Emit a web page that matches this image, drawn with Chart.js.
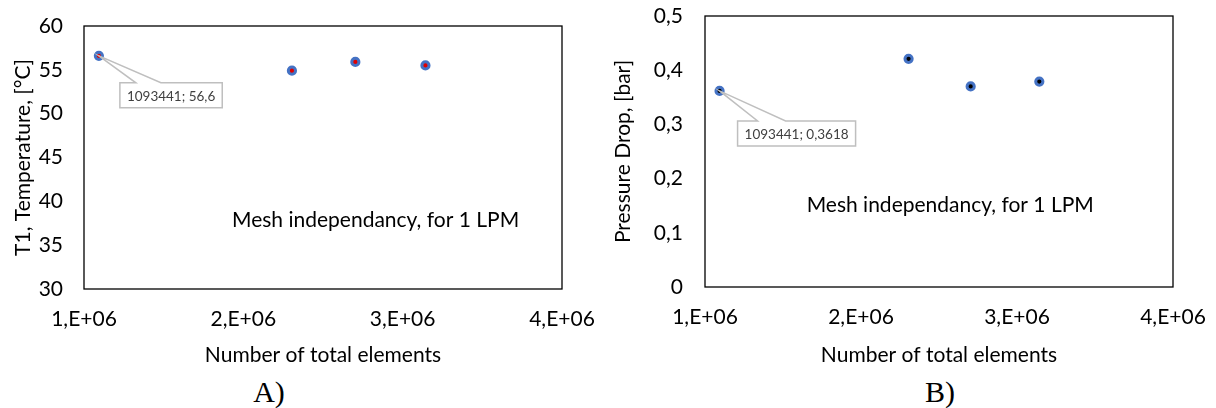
<!DOCTYPE html>
<html lang="en">
<head>
  <meta charset="UTF-8" />
  <title>Mesh independancy</title>
  <script src="https://cdn.jsdelivr.net/npm/chart.js"></script>
  <style>
    body {
      margin: 0;
      background: #fff;
      width: 1216px;
      height: 408px;
      position: relative;
      overflow: hidden;
    }
    .panel {
      position: absolute;
      top: 0;
      height: 372px;
    }
    #leftPanel { left: 0; width: 600px; }
    #rightPanel { left: 600px; width: 616px; }
    .tag {
      position: absolute;
      top: 376px;
      width: 60px;
      line-height: 32px;
      text-align: center;
      font-family: "Liberation Serif", serif;
      font-size: 30px;
      color: #000;
    }
  </style>
</head>
<body>
  <div class="panel" id="leftPanel"><canvas id="tempChart"></canvas></div>
  <div class="panel" id="rightPanel"><canvas id="dropChart"></canvas></div>
  <div class="tag" style="left:239px">A)</div>
  <div class="tag" style="left:910px">B)</div>

<script>
  // mesh sizes (x) shared by both panels
  const elements = [1093441, 2305000, 2703000, 3143000];
  // panel A: T1 temperature [°C]
  const temperature = [56.6, 54.9, 55.9, 55.5];
  // panel B: pressure drop [bar]
  const pressureDrop = [0.3618, 0.421, 0.370, 0.379];
  const xTicks = [1000000, 2000000, 3000000, 4000000];

  const FONT = 'Lato, "Noto Sans", sans-serif';

  function sciLabel(v) {
    return (v / 1e6).toFixed(0) + ',E+06';
  }
  function commaNum(v) {
    return String(+v.toFixed(2)).replace('.', ',');
  }

  // box around plot area, note text and the callout on the first point
  const decor = {
    id: 'decor',
    afterDatasetsDraw(chart, args, opts) {
      const { ctx, chartArea: a } = chart;
      ctx.save();
      ctx.strokeStyle = '#000';
      ctx.lineWidth = 1.3;
      ctx.strokeRect(a.left, a.top, a.right - a.left, a.bottom - a.top);

      ctx.fillStyle = '#000';
      ctx.font = '21px ' + FONT;
      ctx.textAlign = 'center';
      ctx.textBaseline = 'middle';
      ctx.fillText(opts.note,
        a.left + (a.right - a.left) * opts.noteX,
        a.top + (a.bottom - a.top) * opts.noteY);

      // callout
      const p = chart.getDatasetMeta(0).data[0];
      ctx.font = '13.5px ' + FONT;
      const tw = ctx.measureText(opts.callout).width;
      const bw = tw + 14, bh = 25;
      const bx = p.x + opts.dx, by = p.y + opts.dy;
      ctx.beginPath();
      ctx.moveTo(bx, by);
      ctx.lineTo(bx + opts.w1, by);
      ctx.lineTo(p.x, p.y);
      ctx.lineTo(bx + opts.w2, by);
      ctx.lineTo(bx + bw, by);
      ctx.lineTo(bx + bw, by + bh);
      ctx.lineTo(bx, by + bh);
      ctx.closePath();
      ctx.fillStyle = '#fff';
      ctx.fill();
      ctx.strokeStyle = '#BFBFBF';
      ctx.lineWidth = 1.5;
      ctx.stroke();
      ctx.fillStyle = '#404040';
      ctx.textAlign = 'left';
      ctx.fillText(opts.callout, bx + 7, by + bh / 2 + 1);
      ctx.restore();
    }
  };

  function makeChart(id, cfg) {
    const points = elements.map((x, i) => ({ x: x, y: cfg.values[i] }));
    const pad = cfg.padding;
    return new Chart(document.getElementById(id), {
      type: 'scatter',
      data: {
        datasets: [{
          data: points,
          pointRadius: 3.6,
          pointHoverRadius: 3.6,
          pointBorderWidth: 3,
          pointBorderColor: '#4472C4',
          pointBackgroundColor: cfg.inner
        }]
      },
      options: {
        responsive: true,
        maintainAspectRatio: false,
        animation: false,
        events: [],
        layout: { padding: pad },
        plugins: {
          legend: { display: false },
          tooltip: { enabled: false },
          decor: cfg.decor
        },
        scales: {
          x: {
            type: 'linear',
            min: 1000000,
            max: 4000000,
            afterBuildTicks: s => { s.ticks = xTicks.map(v => ({ value: v })); },
            // fixed axis box; label overhang handled by layout padding
            afterFit: s => {
              s.height = 372 - pad.bottom - cfg.plotBottom;
              s.paddingLeft = 0;
              s.paddingRight = 0;
            },
            grid: { display: false, drawTicks: false },
            border: { display: false },
            ticks: {
              color: '#000',
              font: { family: FONT, size: 21 },
              padding: 18,
              maxRotation: 0,
              callback: v => sciLabel(v)
            },
            title: {
              display: true,
              text: 'Number of total elements',
              color: '#000',
              font: { family: FONT, size: 21 },
              padding: { top: 0, bottom: 0 }
            }
          },
          y: {
            min: cfg.yMin,
            max: cfg.yMax,
            afterFit: s => {
              s.width = cfg.plotLeft - pad.left;
              s.paddingTop = 0;
              s.paddingBottom = 0;
            },
            ticks: {
              stepSize: cfg.step,
              color: '#000',
              font: { family: FONT, size: 21 },
              padding: cfg.tickPad,
              callback: v => commaNum(v)
            },
            grid: { display: false, drawTicks: false },
            border: { display: false },
            title: {
              display: true,
              text: cfg.yTitle,
              color: '#000',
              font: { family: FONT, size: 21 },
              padding: { top: 0, bottom: 0 }
            }
          }
        }
      },
      plugins: [decor]
    });
  }

  makeChart('tempChart', {
    values: temperature,
    inner: '#E00000',
    yMin: 30, yMax: 60, step: 5,
    yTitle: 'T1, Temperature, [°C]',
    tickPad: 21,
    plotLeft: 84,
    plotBottom: 289,
    padding: { left: 11, right: 38, top: 26, bottom: 4 },
    decor: { note: 'Mesh independancy, for 1 LPM', noteX: 0.61, noteY: 0.74,
             callout: '1093441; 56,6', dx: 21, dy: 27, w1: 16, w2: 41 }
  });

  makeChart('dropChart', {
    values: pressureDrop,
    inner: '#000',
    yMin: 0, yMax: 0.5, step: 0.1,
    yTitle: 'Pressure Drop, [bar]',
    tickPad: 22,
    plotLeft: 105,
    plotBottom: 287,
    padding: { left: 11, right: 43, top: 16, bottom: 4 },
    decor: { note: 'Mesh independancy, for 1 LPM', noteX: 0.524, noteY: 0.70,
             callout: '1093441; 0,3618', dx: 18, dy: 30, w1: 20, w2: 48 }
  });
</script>
</body>
</html>
